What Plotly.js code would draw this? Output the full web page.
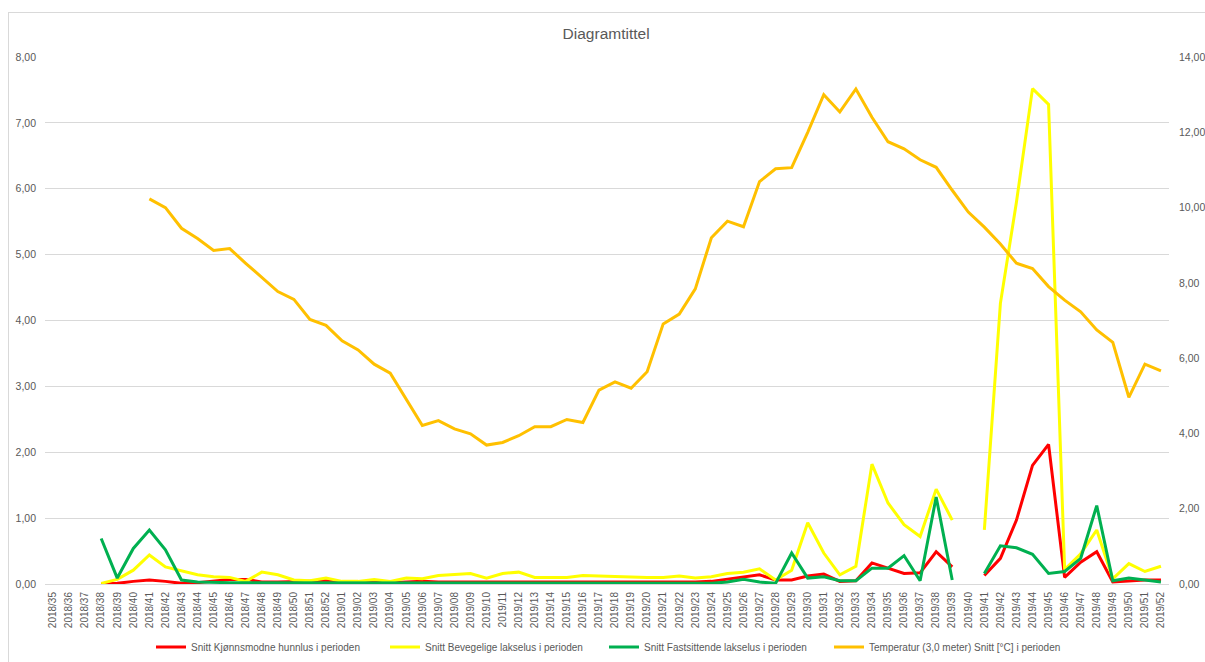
<!DOCTYPE html>
<html>
<head>
<meta charset="utf-8">
<script src="https://cdn.plot.ly/plotly-3.0.1.min.js"></script>
<style>
html,body{margin:0;padding:0;background:#fff;overflow:hidden;}
#frame{position:absolute;left:8px;top:12px;width:1300px;height:800px;border:1px solid #d9d9d9;box-sizing:border-box;}
#chart{position:absolute;left:0;top:0;width:1205px;height:662px;}
</style>
</head>
<body>
<div id="frame"></div>
<div id="chart"></div>
<script>
const weeks = [
"2018/35","2018/36","2018/37","2018/38","2018/39","2018/40","2018/41","2018/42","2018/43","2018/44",
"2018/45","2018/46","2018/47","2018/48","2018/49","2018/50","2018/51","2018/52",
"2019/01","2019/02","2019/03","2019/04","2019/05","2019/06","2019/07","2019/08","2019/09","2019/10",
"2019/11","2019/12","2019/13","2019/14","2019/15","2019/16","2019/17","2019/18","2019/19","2019/20",
"2019/21","2019/22","2019/23","2019/24","2019/25","2019/26","2019/27","2019/28","2019/29","2019/30",
"2019/31","2019/32","2019/33","2019/34","2019/35","2019/36","2019/37","2019/38","2019/39","2019/40",
"2019/41","2019/42","2019/43","2019/44","2019/45","2019/46","2019/47","2019/48","2019/49","2019/50",
"2019/51","2019/52"];

const kjonnsmodne = [null,null,null,0.00,0.01,0.04,0.06,0.04,0.01,0.02,
0.04,0.07,0.07,0.03,0.03,0.03,0.04,0.05,
0.02,0.02,0.03,0.02,0.03,0.04,0.03,0.03,0.03,0.03,
0.02,0.02,0.02,0.03,0.03,0.03,0.03,0.03,0.03,0.02,
0.02,0.03,0.03,0.04,0.07,0.10,0.14,0.06,0.06,0.12,
0.15,0.04,0.05,0.32,0.24,0.16,0.17,0.49,0.26,null,
0.13,0.39,0.97,1.80,2.12,0.10,0.33,0.49,0.03,0.05,
0.06,0.06];

const bevegelige = [null,null,null,0.01,0.07,0.21,0.44,0.26,0.20,0.14,
0.11,0.10,0.04,0.18,0.14,0.06,0.05,0.09,
0.04,0.04,0.07,0.04,0.09,0.08,0.13,0.15,0.16,0.09,
0.16,0.18,0.10,0.10,0.10,0.13,0.12,0.11,0.10,0.10,
0.10,0.12,0.09,0.11,0.16,0.18,0.23,0.06,0.21,0.93,
0.47,0.14,0.27,1.82,1.23,0.90,0.72,1.44,0.97,null,
0.82,4.26,5.80,7.52,7.28,0.22,0.46,0.82,0.08,0.31,
0.19,0.27];

const fastsittende = [null,null,null,0.69,0.09,0.54,0.82,0.52,0.06,0.03,
0.02,0.02,0.02,0.02,0.02,0.02,0.02,0.01,
0.01,0.01,0.01,0.01,0.01,0.01,0.01,0.01,0.02,0.02,
0.02,0.02,0.02,0.02,0.02,0.02,0.02,0.01,0.01,0.01,
0.01,0.01,0.01,0.01,0.03,0.07,0.03,0.01,0.47,0.09,
0.11,0.05,0.05,0.24,0.24,0.43,0.05,1.32,0.06,null,
0.16,0.58,0.55,0.45,0.16,0.19,0.39,1.19,0.05,0.09,
0.06,0.03];

const temperatur = [null,null,null,null,null,null,10.23,10.00,9.45,9.18,
8.86,8.91,8.52,8.15,7.77,7.56,7.03,6.87,
6.46,6.22,5.84,5.60,4.90,4.21,4.34,4.12,3.99,3.69,
3.76,3.94,4.18,4.18,4.37,4.29,5.15,5.37,5.20,5.64,
6.91,7.17,7.84,9.20,9.64,9.49,10.69,11.03,11.06,12.00,
13.00,12.54,13.15,12.40,11.75,11.56,11.27,11.07,10.46,9.88,
9.48,9.03,8.52,8.38,7.90,7.54,7.23,6.75,6.42,4.96,
5.84,5.66];

const seriesNames = [
"Snitt Kjønnsmodne hunnlus i perioden",
"Snitt Bevegelige lakselus i perioden",
"Snitt Fastsittende lakselus i perioden",
"Temperatur (3,0 meter) Snitt [°C] i perioden"];

const FONT = "Liberation Sans Narrow, Liberation Sans, Arial, sans-serif";
const GREY = "#595959";

const traces = [
  {x: weeks, y: kjonnsmodne, name: seriesNames[0], type: "scatter", mode: "lines", legend: "legend",
   line: {color: "#FF0000", width: 3}},
  {x: weeks, y: bevegelige, name: seriesNames[1], type: "scatter", mode: "lines", legend: "legend2",
   line: {color: "#FFFF00", width: 3}},
  {x: weeks, y: fastsittende, name: seriesNames[2], type: "scatter", mode: "lines", legend: "legend3",
   line: {color: "#00B050", width: 3}},
  {x: weeks, y: temperatur, name: seriesNames[3], type: "scatter", mode: "lines", yaxis: "y2", legend: "legend4",
   line: {color: "#FFC000", width: 3}}
];

function legendAt(px) {
  return {orientation: "h", xref: "container", yref: "container",
          x: px / 1205, xanchor: "left", y: 1 - 647 / 662, yanchor: "middle",
          bgcolor: "rgba(0,0,0,0)",
          font: {family: FONT, size: 10, color: GREY}, itemwidth: 30};
}

const layout = {
  width: 1205, height: 662,
  margin: {l: 45, r: 36, t: 57, b: 78},
  paper_bgcolor: "rgba(0,0,0,0)",
  plot_bgcolor: "rgba(0,0,0,0)",
  separators: ",.",
  font: {family: FONT, color: GREY, size: 10},
  title: {text: "Diagramtittel", font: {family: FONT, size: 15.5, color: GREY},
          x: 0.503, xanchor: "center", y: 0.95, yanchor: "middle"},
  showlegend: true,
  legend: legendAt(151),
  legend2: legendAt(385),
  legend3: legendAt(604),
  legend4: legendAt(829),
  xaxis: {type: "category", range: [-0.5, weeks.length - 0.5], autorange: false,
          tickangle: -90, showgrid: false, showline: true,
          linecolor: "#d9d9d9", linewidth: 1, ticks: "", zeroline: false, automargin: false,
          tickfont: {family: FONT, size: 10, color: GREY}, ticklabelstandoff: 3, fixedrange: true},
  yaxis: {range: [0, 8], dtick: 1, tickformat: ".2f", showgrid: true, gridcolor: "#d9d9d9",
          gridwidth: 1, zeroline: false, showline: false, ticks: "", automargin: false,
          tickfont: {family: FONT, size: 10.5, color: GREY}, ticklabelstandoff: 8},
  yaxis2: {range: [0, 14], dtick: 2, tickformat: ".2f", overlaying: "y", side: "right",
           showgrid: false, zeroline: false, showline: false, ticks: "", automargin: false,
           tickfont: {family: FONT, size: 10.5, color: GREY}, ticklabelstandoff: 9}
};

Plotly.newPlot("chart", traces, layout, {displayModeBar: false, staticPlot: true});
</script>
</body>
</html>
